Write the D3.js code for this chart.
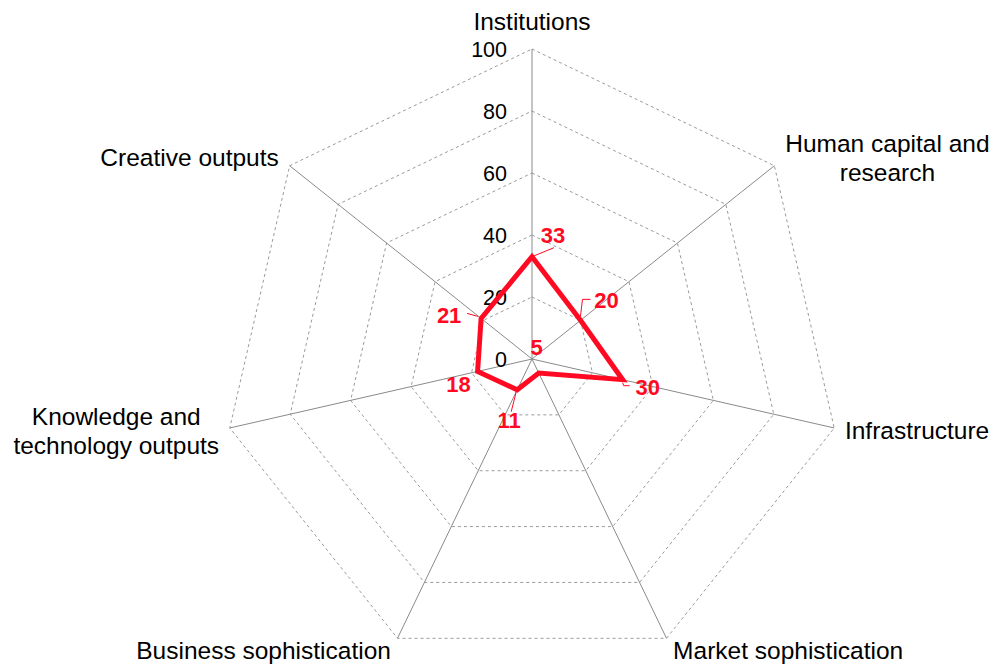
<!DOCTYPE html>
<html>
<head>
<meta charset="utf-8">
<script src="https://cdn.jsdelivr.net/npm/d3@7.9.0/dist/d3.min.js"></script>
<style>
  body { margin: 0; background: #fff; }
  svg { display: block; font-family: "Liberation Sans", Arial, sans-serif; }
</style>
</head>
<body>
<svg id="radar" width="998" height="664"></svg>
<script>
// Axis names (clockwise from the top) and the scores
const categories = [
  ['Institutions'],
  ['Human capital and', 'research'],
  ['Infrastructure'],
  ['Market sophistication'],
  ['Business sophistication'],
  ['Knowledge and', 'technology outputs'],
  ['Creative outputs']
];
const scores = [33, 20, 30, 5, 11, 18, 21];
const ticks = [0, 20, 40, 60, 80, 100];

// where each value label sits relative to its point, and its little leader line
const labelNudge = [[21, -22], [26, -20], [25, 7], [-2, -26], [-8, 30], [-19, 13], [-32, -3]];
const leaders = [
  [[0, 0], [22, -9]],
  [[0, -4], [2, -21], [10, -21]],
  [[0, 3], [1, 6], [7, 6]],
  [],
  [[-1, 2], [-6, 22]],
  [],
  [[-14, -5], [-3, -2]]
];

const svg = d3.select('#radar');
const cx = 532, cy = 359, R = 310;
const red = '#ff0a22';

const r = d3.scaleLinear().domain([0, 100]).range([0, R]);
const angle = d3.scaleLinear().domain([0, categories.length]).range([0, 2 * Math.PI]);

const g = svg.append('g').attr('transform', `translate(${cx},${cy})`);

const toXY = (i, v) => [Math.sin(angle(i)) * r(v), -Math.cos(angle(i)) * r(v)];

// dashed heptagon grid
const gridLine = d3.lineRadial()
  .angle((d, i) => angle(i))
  .radius(d => r(d))
  .curve(d3.curveLinearClosed);

ticks.filter(t => t > 0).forEach(t => {
  g.append('path')
    .attr('d', gridLine(categories.map(() => t)))
    .attr('fill', 'none')
    .attr('stroke', '#9a9a9a')
    .attr('stroke-width', 1)
    .attr('stroke-dasharray', '3,3');
});

// spokes
categories.forEach((c, i) => {
  const [x, y] = toXY(i, 100);
  g.append('line')
    .attr('x1', 0).attr('y1', 0)
    .attr('x2', x).attr('y2', y)
    .attr('stroke', '#8a8a8a')
    .attr('stroke-width', 1);
});

// tick labels next to the top spoke
g.selectAll('.tick')
  .data(ticks)
  .join('text')
  .attr('class', 'tick')
  .attr('x', -25)
  .attr('y', d => -r(d))
  .attr('dy', '0.35em')
  .attr('text-anchor', 'end')
  .attr('font-size', 21.5)
  .attr('fill', '#000')
  .text(d => d);

// axis labels
const lh = 29;
categories.forEach((lines, i) => {
  const a = angle(i);
  const [ex, ey] = toXY(i, 100);
  const s = Math.sin(a), c = Math.cos(a);
  const gap = 12 - 6 * Math.abs(c) * (c < 0 ? 1 : 0.3);
  let anchor = 'middle', x = ex;
  if (s > 0.1) { anchor = 'start'; x = ex + gap; }
  else if (s < -0.1) { anchor = 'end'; x = ex - gap; }
  const t = g.append('text')
    .attr('font-size', 24.5)
    .attr('fill', '#000')
    .attr('text-anchor', 'middle');
  lines.forEach((ln, j) => t.append('tspan').attr('x', 0).attr('y', j * lh).text(ln));
  const w = t.node().getBBox().width;
  let mx = x;
  if (anchor === 'start') mx = x + w / 2;
  if (anchor === 'end') mx = x - w / 2;
  let blockMid;
  if (i === 0) blockMid = ey - 28;
  else blockMid = ey - c * 13;
  const top = blockMid - (lines.length - 1) * lh / 2;
  t.attr('transform', `translate(${mx},${top + 8.5})`);
});

// score polygon
const scoreLine = d3.lineRadial()
  .angle((d, i) => angle(i))
  .radius(d => r(d))
  .curve(d3.curveLinearClosed);

g.append('path')
  .attr('d', scoreLine(scores))
  .attr('fill', 'none')
  .attr('stroke', red)
  .attr('stroke-width', 5)
  .attr('stroke-linejoin', 'miter');

// leaders + value labels
scores.forEach((v, i) => {
  const [px, py] = toXY(i, v);
  if (leaders[i].length) {
    g.append('path')
      .attr('d', d3.line()(leaders[i].map(([dx, dy]) => [px + dx, py + dy])))
      .attr('fill', 'none')
      .attr('stroke', red)
      .attr('stroke-width', 1);
  }
  g.append('text')
    .attr('x', px + labelNudge[i][0])
    .attr('y', py + labelNudge[i][1])
    .attr('dy', '0.36em')
    .attr('text-anchor', 'middle')
    .attr('font-size', 22)
    .attr('font-weight', 'bold')
    .attr('fill', red)
    .text(v);
});
</script>
</body>
</html>
